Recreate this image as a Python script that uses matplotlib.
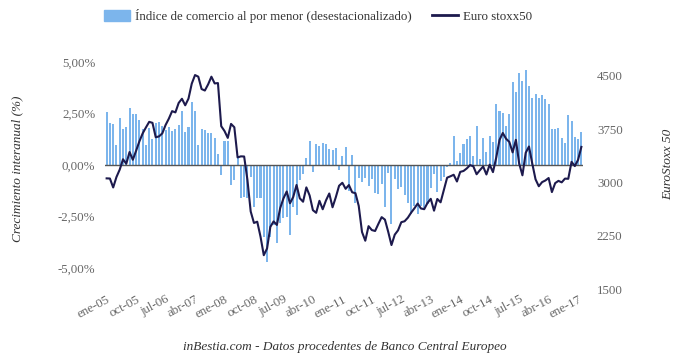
import numpy as np
import matplotlib.pyplot as plt
from matplotlib.patches import Patch
from matplotlib.lines import Line2D

plt.rcParams['font.family'] = ['Liberation Serif', 'DejaVu Serif']

# retail trade index, year-on-year growth (%), monthly from ene-05
retail = [
    2.55, 2.06, 2.0, 0.96, 2.27, 1.76, 1.83, 2.79, 2.5, 2.5, 2.19, 1.74,
    0.96, 1.79, 1.26, 2.05, 2.09, 1.88, 1.69, 1.83, 1.66, 1.74, 1.95, 2.6,
    1.59, 1.86, 3.08, 2.6, 0.98, 1.76, 1.71, 1.54, 1.54, 1.33, 0.54, -0.5,
    1.15, 1.15, -0.97, -0.75, 0.32, -1.6, -1.53, -1.6, -0.56, -2.03, -1.6, -1.6,
    -3.5, -4.7, -3.5, -2.9, -3.8, -2.8, -2.55, -2.5, -3.4, -2.02, -2.42, -0.72,
    -0.45, 0.33, 1.18, -0.36, 1.04, 0.94, 1.07, 1.04, 0.78, 0.74, 0.83, -0.26,
    0.44, 0.85, -1.25, 0.47, -1.85, -0.65, -0.82, -0.62, -1.0, -0.7, -1.34, -1.42,
    -0.93, -2.03, -0.37, -2.85, -0.69, -1.15, -1.08, -1.45, -1.85, -2.4, -2.0, -2.4,
    -1.97, -2.12, -1.9, -1.1, -0.45, -1.3, -0.8, -0.6, -0.1, 0.1, 1.42, 0.18,
    0.6, 1.03, 1.25, 1.42, 0.44, 1.87, 0.29, 1.3, 0.62, 1.42, 1.1, 2.95,
    2.61, 2.54, 1.88, 2.47, 4.05, 3.53, 4.49, 4.1, 4.62, 3.84, 3.27, 3.45,
    3.27, 3.41, 3.21, 2.97, 1.75, 1.75, 1.79, 1.29, 1.08, 2.43, 2.14, 1.38,
    1.27, 1.62,
]

# Euro Stoxx 50 level, same months
stoxx = [
    3058, 3056, 2930, 3077, 3182, 3327, 3264, 3429, 3320, 3447, 3579, 3691,
    3775, 3854, 3840, 3637, 3649, 3692, 3809, 3899, 4005, 3987, 4120, 4179,
    4087, 4181, 4392, 4513, 4490, 4316, 4295, 4382, 4490, 4395, 4400, 3793,
    3725, 3628, 3825, 3778, 3353, 3368, 3366, 3038, 2592, 2430, 2448, 2237,
    1976, 2071, 2375, 2452, 2402, 2638, 2775, 2873, 2707, 2797, 2965, 2777,
    2729, 2931, 2817, 2610, 2573, 2742, 2623, 2748, 2845, 2651, 2793, 2954,
    2996, 2911, 2964, 2862, 2849, 2670, 2303, 2180, 2385, 2330, 2317, 2417,
    2512, 2477, 2306, 2119, 2265, 2326, 2441, 2454, 2504, 2575, 2636, 2703,
    2634, 2624, 2712, 2770, 2603, 2768, 2721, 2893, 3068, 3087, 3109, 3014,
    3149, 3162, 3198, 3245, 3228, 3116, 3173, 3226, 3113, 3251, 3146, 3351,
    3599, 3697, 3616, 3571, 3424, 3601, 3270, 3101, 3418, 3507, 3268, 3045,
    2947, 3005, 3028, 3063, 2865, 2991, 3023, 3002, 3055, 3052, 3291, 3231,
    3320, 3501,
]

tick_labels = ['ene-05', 'oct-05', 'jul-06', 'abr-07', 'ene-08', 'oct-08',
               'jul-09', 'abr-10', 'ene-11', 'oct-11', 'jul-12', 'abr-13',
               'ene-14', 'oct-14', 'jul-15', 'abr-16', 'ene-17']
left_ticks = [-5, -2.5, 0, 2.5, 5]
left_labels = ['-5,00%', '-2,50%', '0,00%', '2,50%', '5,00%']
right_ticks = [1500, 2250, 3000, 3750, 4500]

bar_color = '#7cb5ec'
line_color = '#1d1a4d'
tick_color = '#666666'
text_color = '#333333'

x = np.arange(len(retail))

fig = plt.figure(figsize=(6.8, 3.6), dpi=100)
ax = fig.add_axes([105 / 680, 1 - 292 / 360, 478 / 680, 242 / 360])
ax.bar(x, retail, width=0.62, color=bar_color, zorder=2)
ax.axhline(0, color='#555555', lw=1, zorder=3)
ax.set_xlim(-0.5, len(retail) - 0.5)
ax.set_ylim(-6.165, 5.583)
ax.set_yticks(left_ticks)
ax.set_yticklabels(left_labels)
ax.set_xticks(x[::9])
ax.set_xticklabels(tick_labels, rotation=28, ha='right', rotation_mode='anchor')

ax2 = ax.twinx()
ax2.plot(x, stoxx, color=line_color, lw=1.5, zorder=4)
ax2.set_ylim(1457.8, 4865.8)
ax2.set_yticks(right_ticks)

for a in (ax, ax2):
    for s in a.spines.values():
        s.set_visible(False)
ax.tick_params(axis='y', length=0, pad=7, labelsize=9.3, labelcolor=tick_color)
ax.tick_params(axis='x', length=0, pad=1, labelsize=9.3, labelcolor=tick_color)
ax2.tick_params(axis='y', length=0, pad=10, labelsize=9.3, labelcolor=tick_color)

fig.text(17 / 680, 1 - 169 / 360, 'Crecimiento interanual (%)', rotation=90,
         ha='center', va='center', style='italic', fontsize=9.5, color=text_color)
fig.text(668 / 680, 1 - 164 / 360, 'EuroStoxx 50', rotation=90,
         ha='center', va='center', style='italic', fontsize=9.5, color=text_color)
fig.text(345 / 680, 1 - 347 / 360,
         'inBestia.com - Datos procedentes de Banco Central Europeo',
         ha='center', va='center', style='italic', fontsize=9.5, color=text_color)

handles = [Patch(color=bar_color, label='Índice de comercio al por menor (desestacionalizado)'),
           Line2D([], [], color=line_color, lw=2, label='Euro stoxx50')]
fig.legend(handles=handles, loc='center', bbox_to_anchor=(318 / 680, 1 - 16 / 360),
           ncol=2, frameon=False, fontsize=9.3, handlelength=2.0, handleheight=1.0,
           handletextpad=0.4, columnspacing=1.6, labelcolor=text_color)

fig.savefig('out.png', dpi=100)
